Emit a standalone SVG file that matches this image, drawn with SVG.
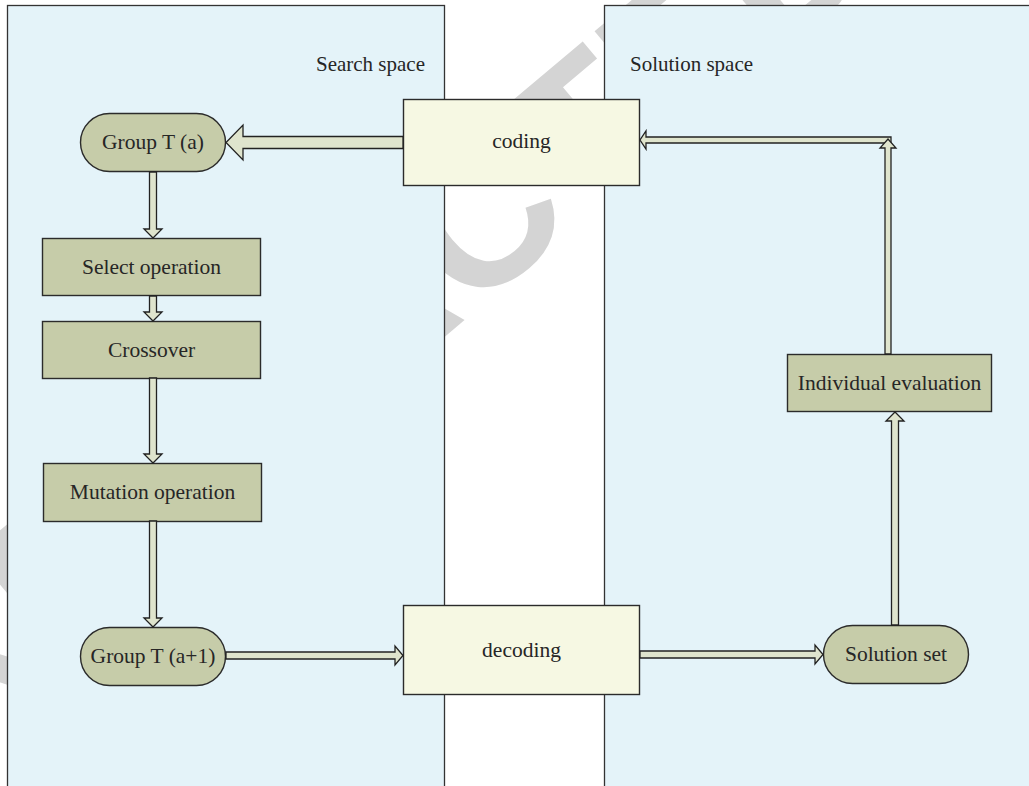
<svg xmlns="http://www.w3.org/2000/svg" width="1029" height="786" viewBox="0 0 1029 786">
<style>
.panel{fill:#e4f3f9;stroke:#333;stroke-width:1.3}
.node{fill:#c6cca9;stroke:#2b2b2b;stroke-width:1.4}
.code{fill:#f6f8e3;stroke:#2b2b2b;stroke-width:1.4}
.arrow{fill:#dfe4cd;stroke:#222;stroke-width:1.3;stroke-linejoin:miter}
.t{font-family:"Liberation Serif","Times New Roman",serif;font-size:21.5px;fill:#262626;text-anchor:middle}
.lbl{font-family:"Liberation Serif","Times New Roman",serif;font-size:21px;fill:#262626}
.wm{font-family:"Liberation Sans",Arial,sans-serif;font-weight:bold;font-size:200px;fill:#d4d4d4;text-anchor:middle}
</style>
<rect x="0" y="0" width="1029" height="786" fill="#ffffff"/>
<text class="wm" x="367" y="380" transform="rotate(-40 367 308)">RETRACTED</text>
<g id="search-space">
<rect class="panel" x="7.5" y="5.5" width="437" height="800"/>
<text class="lbl" x="425" y="71" text-anchor="end">Search space</text>
</g>
<g id="solution-space">
<rect class="panel" x="604.5" y="5.5" width="440" height="800"/>
<text class="lbl" x="630" y="71">Solution space</text>
</g>
<g id="coding">
<rect class="code" x="403.5" y="99.5" width="236" height="86"/>
<text class="t" x="521.5" y="148">coding</text>
</g>
<g id="decoding">
<rect class="code" x="403.5" y="605.5" width="236" height="89"/>
<text class="t" x="521.5" y="657">decoding</text>
</g>
<g id="group-t-a">
<rect class="node" x="80.5" y="113.5" width="145" height="58" rx="29"/>
<text class="t" x="153" y="149">Group T (a)</text>
</g>
<g id="select-operation">
<rect class="node" x="42.5" y="238.5" width="218" height="57"/>
<text class="t" x="151.5" y="274">Select operation</text>
</g>
<g id="crossover">
<rect class="node" x="42.5" y="321.5" width="218" height="57"/>
<text class="t" x="151.5" y="357">Crossover</text>
</g>
<g id="mutation-operation">
<rect class="node" x="43.5" y="463.5" width="218" height="58"/>
<text class="t" x="152.5" y="499">Mutation operation</text>
</g>
<g id="group-t-a1">
<rect class="node" x="80.5" y="627.5" width="145" height="58" rx="29"/>
<text class="t" x="153" y="663">Group T (a+1)</text>
</g>
<g id="solution-set">
<rect class="node" x="823.5" y="625.5" width="145" height="58" rx="29"/>
<text class="t" x="896" y="661">Solution set</text>
</g>
<g id="individual-evaluation">
<rect class="node" x="787.5" y="354.5" width="204" height="57"/>
<text class="t" x="889.5" y="390">Individual evaluation</text>
</g>
<g id="connectors">
<polygon class="arrow" points="403,136.5 243,136.5 243,125 226,142.5 243,160 243,148.5 403,148.5"/>
<polygon class="arrow" points="149.5,172 156.5,172 156.5,229 162,229 153,238 144,229 149.5,229"/>
<polygon class="arrow" points="149.5,296 156.5,296 156.5,312 162,312 153,321 144,312 149.5,312"/>
<polygon class="arrow" points="149.5,378 156.5,378 156.5,454 162,454 153,463 144,454 149.5,454"/>
<polygon class="arrow" points="149.5,521 156.5,521 156.5,618 162,618 153,627 144,618 149.5,618"/>
<polygon class="arrow" points="226,652 395,652 395,646 403,655.5 395,665 395,659 226,659"/>
<polygon class="arrow" points="640,651 815,651 815,645 823,654.5 815,664 815,658 640,658"/>
<polygon class="arrow" points="891.5,625 891.5,421 886,421 895,412 904,421 898.5,421 898.5,625"/>
<polygon class="arrow" points="891,137 646,137 646,131 640,140 646,149 646,143 891,143"/>
<polygon class="arrow" points="885,354 885,148 880,148 888,139 896,148 891,148 891,354"/>
</g>
</svg>
